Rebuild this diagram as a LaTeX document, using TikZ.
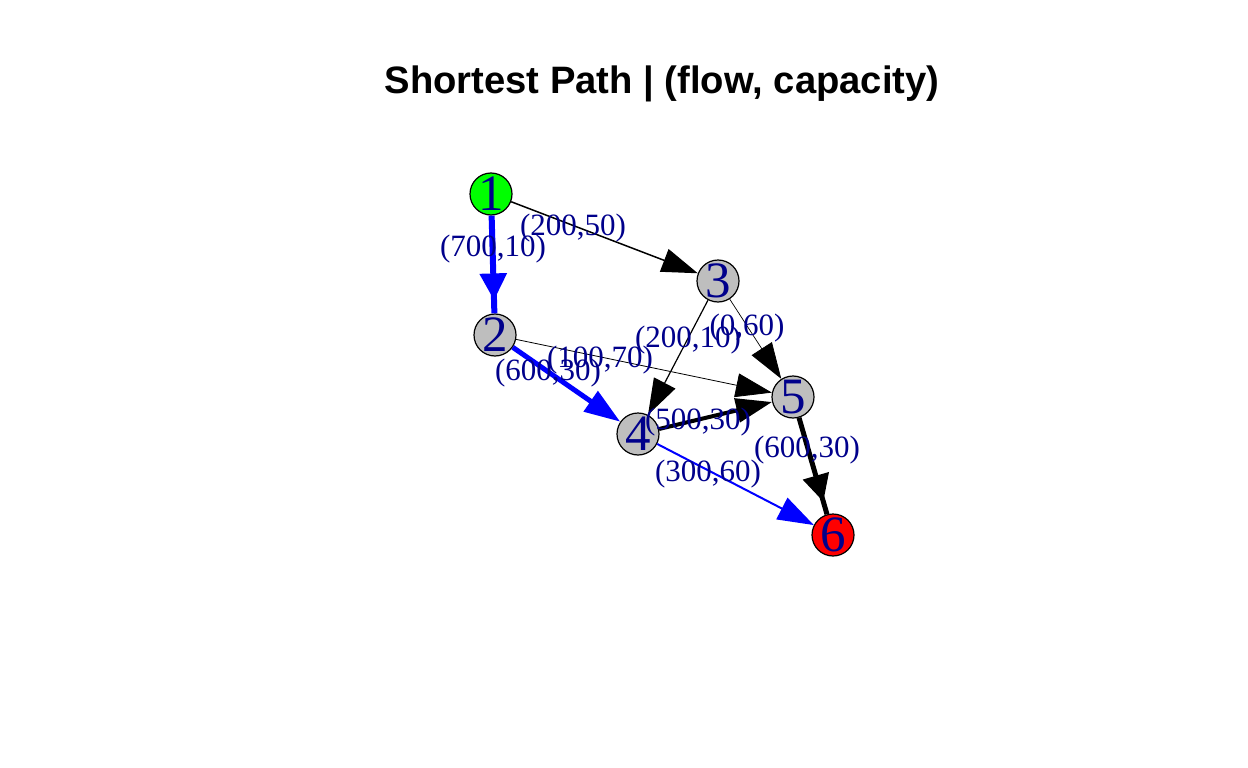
\documentclass[tikz,border=0pt]{standalone}
\usepackage{fontspec}
\setmainfont{Liberation Serif}
\newfontfamily\titlefont{Liberation Sans}
\usetikzlibrary{arrows.meta,decorations.markings}
\definecolor{lblblue}{HTML}{00008B}
\definecolor{vgray}{HTML}{BEBEBE}
\definecolor{vgreen}{HTML}{00FF00}
\definecolor{vred}{HTML}{FF0000}
\definecolor{eblue}{HTML}{0000FF}
\begin{document}
\begin{tikzpicture}[x=1pt,y=-1pt,
  vertex/.style={circle,draw=black,line width=1.2pt,minimum size=42pt,inner sep=0pt},
  vlabel/.style={font=\fontsize{51}{51}\selectfont,text=lblblue,inner sep=0pt},
  elabel/.style={font=\fontsize{31}{31}\selectfont,text=lblblue,inner sep=0pt,anchor=base},
  tipthin/.style={-{Triangle[length=36pt,width=24pt]}},
  midarrow/.style={postaction={decorate},decoration={markings,mark=at position -13pt with {\arrow{Triangle[length=27pt,width=26pt]}}}}
]
\useasboundingbox (0,0) rectangle (1248,768);
\node[font=\titlefont\bfseries\fontsize{38.2}{38.2}\selectfont,anchor=base] (title) at (662,93) {Shortest Path | (flow, capacity)};

\node[vertex,fill=vgreen,label={[vlabel]center:1}] (n1) at (491,194) {};
\node[vertex,fill=vgray,label={[vlabel]center:2}] (n2) at (495,335) {};
\node[vertex,fill=vgray,label={[vlabel]center:3}] (n3) at (718,281) {};
\node[vertex,fill=vgray,label={[vlabel]center:4}] (n4) at (638,434) {};
\node[vertex,fill=vgray,label={[vlabel]center:5}] (n5) at (793,397) {};
\node[vertex,fill=vred,label={[vlabel]center:6}] (n6) at (833,535) {};

\draw[eblue,line width=6pt,midarrow] (n1) -- (n2);
\draw[black,line width=1.5pt,tipthin] (n1) -- (n3);
\draw[eblue,line width=5pt,tipthin] (n2) -- (n4);
\draw[black,line width=0.8pt,tipthin] (n2) -- (n5);
\draw[black,line width=1.2pt,tipthin] (n3) -- (n4);
\draw[black,line width=0.7pt,tipthin] (n3) -- (n5);
\draw[black,line width=4pt,tipthin] (n4) -- (n5);
\draw[black,line width=5pt,midarrow] (n5) -- (n6);
\draw[eblue,line width=2pt,tipthin] (n4) -- (n6);

\node[elabel] (l13) at (573,235.5) {(200,50)};
\node[elabel] (l12) at (493,256.5) {(700,10)};
\node[elabel] (l34) at (688,347.5) {(200,10)};
\node[elabel] (l35) at (747,335.5) {(0,60)};
\node[elabel] (l25) at (600,367.5) {(100,70)};
\node[elabel] (l24) at (548,380.5) {(600,30)};
\node[elabel] (l45) at (698,429.5) {(500,30)};
\node[elabel] (l56) at (807,457.5) {(600,30)};
\node[elabel] (l46) at (708,481.5) {(300,60)};
\end{tikzpicture}
\end{document}
